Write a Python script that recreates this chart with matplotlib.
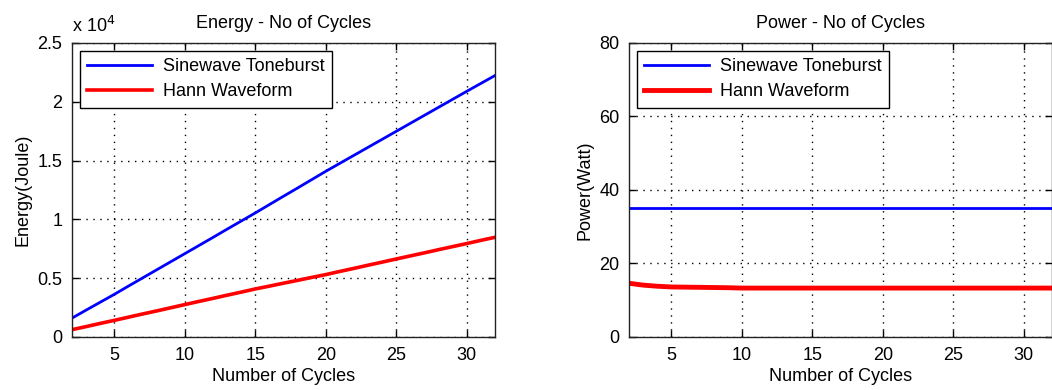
import matplotlib.pyplot as plt
from matplotlib.ticker import FuncFormatter

plt.rcParams['font.family'] = ['Liberation Sans', 'DejaVu Sans']

cycles = list(range(2, 33))

energy_sine = [1600, 2280, 2950, 3620, 4320, 5010, 5700, 6390, 7080, 7770,
               8460, 9160, 9850, 10540, 11250, 11960, 12660, 13370, 14080, 14760,
               15440, 16120, 16800, 17480, 18160, 18840, 19520, 20200, 20880, 21550,
               22220]
energy_hann = [620, 880, 1150, 1410, 1680, 1950, 2210, 2480, 2750, 3020,
               3280, 3550, 3810, 4080, 4320, 4570, 4810, 5060, 5300, 5570,
               5830, 6100, 6360, 6630, 6890, 7150, 7420, 7680, 7940, 8210,
               8470]

power_sine = [35.0] * 31
power_hann = [14.6, 14.1, 13.8, 13.6, 13.55, 13.5, 13.45, 13.4, 13.3, 13.3,
              13.3, 13.3, 13.3, 13.3, 13.3, 13.3, 13.3, 13.3, 13.3, 13.3,
              13.3, 13.3, 13.3, 13.3, 13.3, 13.3, 13.3, 13.3, 13.3, 13.3,
              13.3]

labels = ["Sinewave Toneburst", "Hann Waveform"]
fs = 13

fig = plt.figure(figsize=(10.52, 3.9), dpi=100)
ax1 = fig.add_axes([0.0684, 0.136, 0.402, 0.754])
ax2 = fig.add_axes([0.598, 0.136, 0.402, 0.754])


def style(ax):
    ax.set_xlim(2, 32)
    ax.set_xticks([5, 10, 15, 20, 25, 30])
    ax.grid(True, color='black', linestyle=(0, (1, 4)), linewidth=1)
    ax.tick_params(direction='in', top=True, right=True, length=5,
                   labelsize=fs, width=1, pad=7)
    for s in ax.spines.values():
        s.set_linewidth(1)
        s.set_color('#222222')
    ax.set_xlabel("Number of Cycles", fontsize=fs, labelpad=3)


ax1.plot(cycles, energy_sine, color='blue', lw=2, label=labels[0])
ax1.plot(cycles, energy_hann, color='red', lw=2.6, label=labels[1])
style(ax1)
ax1.set_ylim(0, 25000)
ax1.set_yticks([0, 5000, 10000, 15000, 20000, 25000])
ax1.yaxis.set_major_formatter(FuncFormatter(lambda v, p: f"{v / 1e4:g}"))
ax1.set_ylabel("Energy(Joule)", fontsize=fs, labelpad=4)
ax1.set_title("Energy - No of Cycles", fontsize=fs, pad=11)
ax1.text(0.0, 1.025, r"x 10$^{4}$", transform=ax1.transAxes, fontsize=fs,
         ha='left', va='bottom')

ax2.plot(cycles, power_sine, color='blue', lw=2, label=labels[0])
ax2.plot(cycles, power_hann, color='red', lw=3.5, label=labels[1])
style(ax2)
ax2.set_ylim(0, 80)
ax2.set_yticks([0, 20, 40, 60, 80])
ax2.set_ylabel("Power(Watt)", fontsize=fs, labelpad=4)
ax2.set_title("Power - No of Cycles", fontsize=fs, pad=11)

for ax in (ax1, ax2):
    leg = ax.legend(loc='upper left', fontsize=fs, fancybox=False,
                    framealpha=1, edgecolor='black', handlelength=3.6,
                    borderaxespad=0.45, borderpad=0.4, labelspacing=0.45,
                    handletextpad=0.6)
    leg.get_frame().set_linewidth(1)

fig.savefig("out.png", dpi=100)
